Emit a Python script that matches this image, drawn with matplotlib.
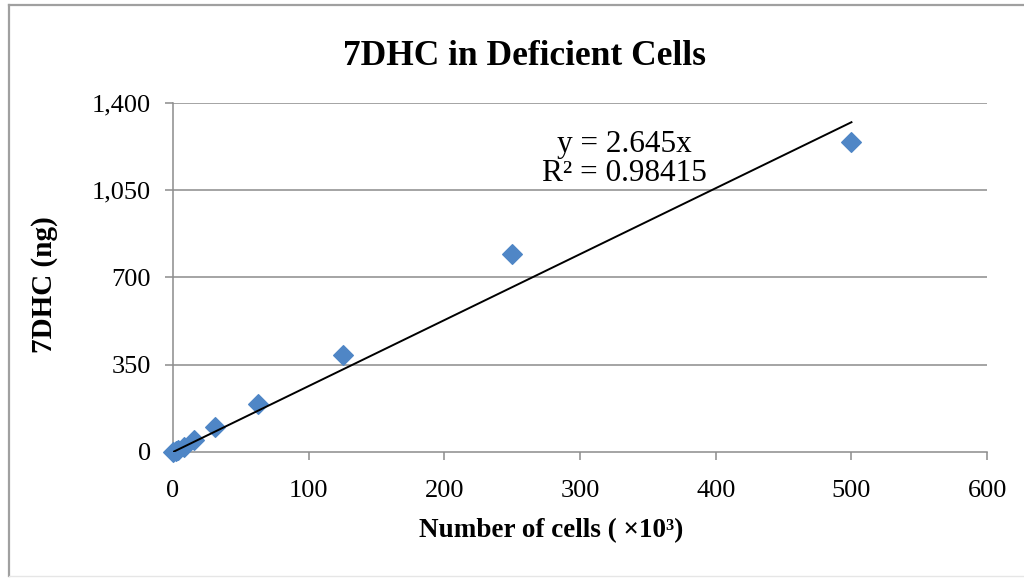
import matplotlib
matplotlib.use("Agg")
import matplotlib.pyplot as plt
from matplotlib.lines import Line2D
from matplotlib.ticker import FuncFormatter
import numpy as np

# data
cells = [0, 1.95, 3.9, 7.8, 15.6, 31.25, 62.5, 125, 250, 500]
dhc_ng = [0, 5, 10, 22, 48, 100, 193, 389, 794, 1243]
slope = 2.645
r2 = 0.98415
x_ticks = [0, 100, 200, 300, 400, 500, 600]
y_ticks = [0, 350, 700, 1050, 1400]

plt.rcParams['font.family'] = ['Liberation Serif', 'DejaVu Serif']

fig = plt.figure(figsize=(10.24, 5.78), dpi=100)
ax = fig.add_axes([0.169, 0.218, 0.795, 0.604])

# chart frame (left/top border like the excel chart area)
fig.add_artist(Line2D([9/1024, 9/1024], [2/578, 1 - 5/578], color='#a0a0a0', lw=1.6))
fig.add_artist(Line2D([9/1024, 1.0], [1 - 5/578, 1 - 5/578], color='#a0a0a0', lw=1.6))
fig.add_artist(Line2D([9/1024, 1.0], [2/578, 2/578], color='#e6e6e6', lw=1.0))

ax.set_xlim(x_ticks[0], x_ticks[-1])
ax.set_ylim(y_ticks[0], y_ticks[-1])
ax.set_xticks(x_ticks)
ax.set_yticks(y_ticks)
ax.yaxis.set_major_formatter(FuncFormatter(lambda v, p: f"{int(v):,}"))

for yv in y_ticks[1:]:
    ax.axhline(yv, color='#8c8c8c', lw=1.1, zorder=0)

for s in ['top', 'right']:
    ax.spines[s].set_visible(False)
for s in ['left', 'bottom']:
    ax.spines[s].set_color('#8c8c8c')
    ax.spines[s].set_linewidth(1.1)
ax.tick_params(axis='both', direction='out', length=6, width=1.1, color='#8c8c8c',
               labelsize=19)
ax.tick_params(axis='x', pad=14)
ax.tick_params(axis='y', pad=10)

ax.scatter(cells, dhc_ng, marker='D', s=100, color='#4f86c6', zorder=3, clip_on=False)

fit_x = np.array([0, max(cells)])
ax.plot(fit_x, slope * fit_x, color='black', lw=1.4, zorder=4)

ax.text(333, 1175, f"y = {slope}x\nR² = {r2}", fontsize=22.5, ha='center', va='center',
        linespacing=1.0)

# excel centres title / x label on the chart area, not the plot area
ax.set_title("7DHC in Deficient Cells", fontsize=25.5, fontweight='bold', pad=27, x=0.432)
ax.set_xlabel("Number of cells ( ×10³)", fontsize=19.5, fontweight='bold', labelpad=12)
ax.xaxis.label.set_x(0.464)
ax.set_ylabel("7DHC (ng)", fontsize=21, fontweight='bold', labelpad=24)
ax.yaxis.label.set_y(0.48)

fig.savefig("out.png", dpi=100)
